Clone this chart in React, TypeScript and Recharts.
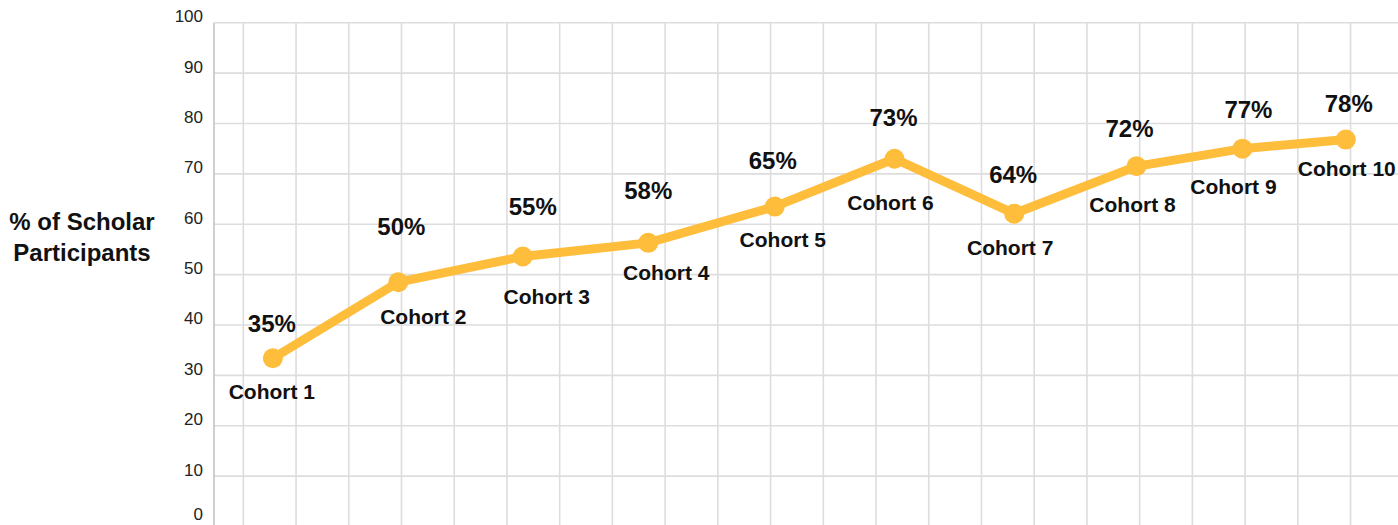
import React from 'react';
import { LineChart, Line, XAxis, YAxis, CartesianGrid, LabelList } from 'recharts';

// Categories
const cohorts = ['Cohort 1', 'Cohort 2', 'Cohort 3', 'Cohort 4', 'Cohort 5', 'Cohort 6', 'Cohort 7', 'Cohort 8', 'Cohort 9', 'Cohort 10'];
// Horizontal position of each cohort along the (unlabelled) x scale
const cohortPositions = [0.56, 2.94, 5.3, 7.68, 10.08, 12.35, 14.62, 16.94, 18.95, 20.91];
// Plotted values (% of scholar participants)
const participantValues = [33.4, 48.5, 53.6, 56.3, 63.5, 73.0, 62.1, 71.5, 75.0, 76.8];
// Value labels as printed on the chart
const percentLabels = ['35%', '50%', '55%', '58%', '65%', '73%', '64%', '72%', '77%', '78%'];
// Axis ticks
const yTicks = [0, 10, 20, 30, 40, 50, 60, 70, 80, 90, 100];
const xGridTicks = [0, 1, 2, 3, 4, 5, 6, 7, 8, 9, 10, 11, 12, 13, 14, 15, 16, 17, 18, 19, 20, 21];

// Label placement offsets relative to each point (annotation layout)
const pctOffsets: [number, number][] = [[-1, -35], [3, -56], [10, -50], [0, -52], [-2, -46], [-1, -41], [-1, -39], [-7, -38], [6, -39], [3, -36]];
const cohortOffsets: [number, number][] = [[-1, 33], [25, 34], [24, 40], [18, 30], [8, 33], [-4, 44], [-4, 34], [-4, 38], [-9, 38], [1, 29]];

const data = cohorts.map((c, i) => ({ cohort: c, x: cohortPositions[i], value: participantValues[i], pct: percentLabels[i] }));

const FONT = '"Liberation Sans", Arial, Helvetica, sans-serif';
const LINE_COLOR = '#FEBD3B';
const X_DOMAIN: [number, number] = [-0.556, 21.9];

const YTick = (props: any) => {
  const { x, y, payload } = props;
  const shift = payload.value === 0 ? -12 : -6;
  return (
    <text x={x} y={y + shift} textAnchor="end" dominantBaseline="central" fontFamily={FONT} fontSize={17} fill="#222">
      {payload.value}
    </text>
  );
};

const PctLabel = (props: any) => {
  const { x, y, index } = props;
  const [dx, dy] = pctOffsets[index];
  return (
    <text x={x + dx} y={y + dy} textAnchor="middle" dominantBaseline="central" fontFamily={FONT} fontWeight="bold" fontSize={24} fill="#111">
      {percentLabels[index]}
    </text>
  );
};

const CohortLabel = (props: any) => {
  const { x, y, index } = props;
  const [dx, dy] = cohortOffsets[index];
  return (
    <text x={x + dx} y={y + dy} textAnchor="middle" dominantBaseline="central" fontFamily={FONT} fontWeight="bold" fontSize={21} fill="#111">
      {cohorts[index]}
    </text>
  );
};

const AxisTitle = () => (
  <text textAnchor="middle" fontFamily={FONT} fontWeight="bold" fontSize={24} fill="#111">
    <tspan x={82} y={230}>% of Scholar</tspan>
    <tspan x={82} y={261}>Participants</tspan>
  </text>
);

const verticalGen = (props: any) => {
  const { offset } = props;
  const left = offset.left;
  const w = offset.width;
  const [d0, d1] = X_DOMAIN;
  return xGridTicks.map((t) => left + ((t - d0) / (d1 - d0)) * w);
};

export default function App() {
  return (
    <div style={{ position: 'absolute', left: 0, top: 0, width: 1398, height: 525, overflow: 'hidden', background: '#fff' }}>
      <LineChart width={1398} height={540} data={data} margin={{ top: 22.7, right: 0, left: 0, bottom: 13.5 }}>
        <CartesianGrid stroke="#dddddd" strokeWidth={1.6} verticalCoordinatesGenerator={verticalGen} />
        <XAxis
          dataKey="x"
          type="number"
          domain={X_DOMAIN}
          ticks={xGridTicks}
          allowDataOverflow
          height={0}
          tick={false}
          tickLine={false}
          axisLine={false}
        />
        <YAxis
          type="number"
          domain={[0, 100]}
          ticks={yTicks}
          width={214}
          tickSize={0}
          tickMargin={11}
          tickLine={false}
          axisLine={{ stroke: '#c4c4c4', strokeWidth: 1.6 }}
          tick={<YTick />}
          label={{ content: () => <AxisTitle /> }}
        />
        <Line
          dataKey="value"
          stroke={LINE_COLOR}
          strokeWidth={9}
          dot={{ r: 10, fill: LINE_COLOR, stroke: LINE_COLOR, strokeWidth: 0 }}
          activeDot={false}
          isAnimationActive={false}
        >
          <LabelList dataKey="pct" content={<PctLabel />} />
          <LabelList dataKey="cohort" content={<CohortLabel />} />
        </Line>
      </LineChart>
    </div>
  );
}
